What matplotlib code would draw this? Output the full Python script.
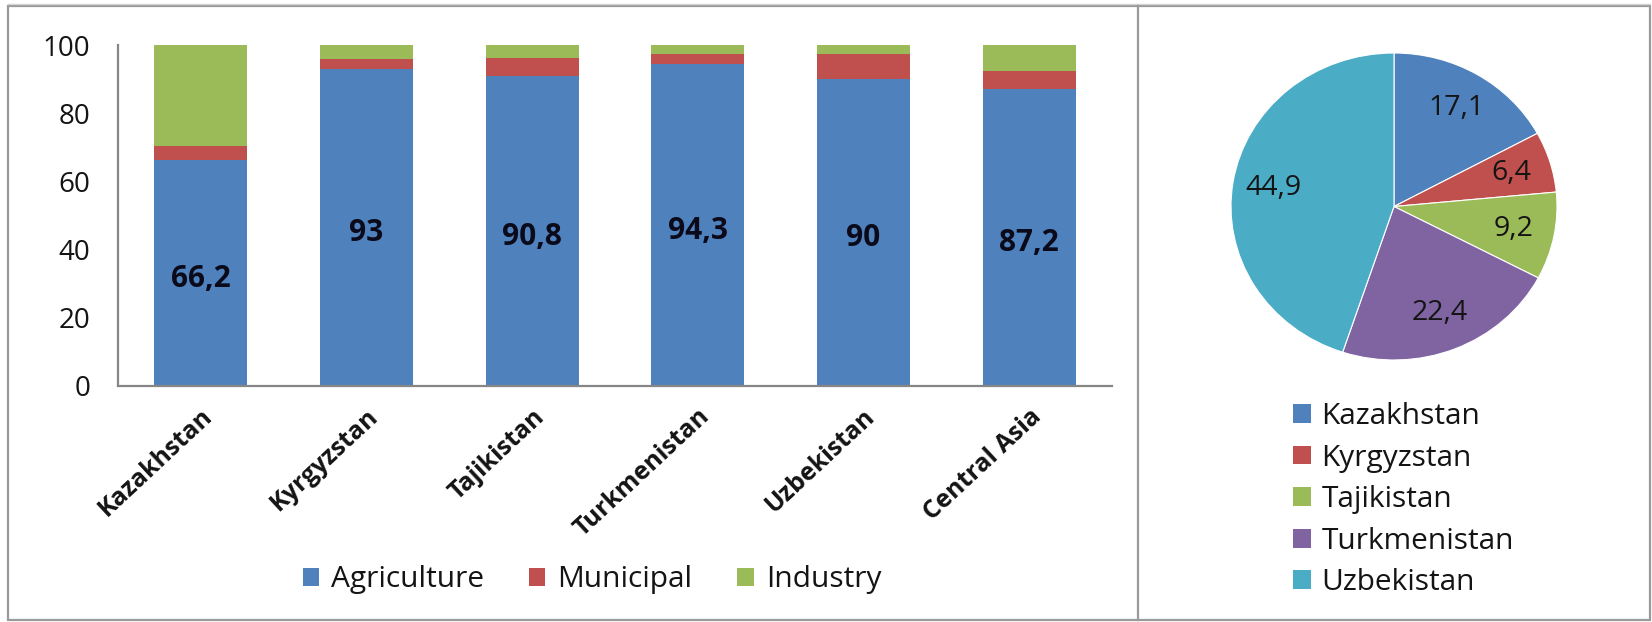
import matplotlib
matplotlib.use("Agg")
import matplotlib.pyplot as plt
from matplotlib.patches import Rectangle, Patch
from matplotlib.lines import Line2D

plt.rcParams["font.family"] = ["Open Sans", "DejaVu Sans"]

# Water withdrawal structure by sector, %
countries = ["Kazakhstan", "Kyrgyzstan", "Tajikistan", "Turkmenistan", "Uzbekistan", "Central Asia"]
agriculture = [66.2, 93.0, 90.8, 94.3, 90.0, 87.2]
municipal = [4.2, 2.8, 5.5, 3.0, 7.3, 5.3]
industry = [29.6, 4.2, 3.7, 2.7, 2.7, 7.5]
sectors = ["Agriculture", "Municipal", "Industry"]

# Share of each country in total regional withdrawal, %
pie_countries = ["Kazakhstan", "Kyrgyzstan", "Tajikistan", "Turkmenistan", "Uzbekistan"]
pie_shares = [17.1, 6.4, 9.2, 22.4, 44.9]

BLUE, RED, GREEN, PURPLE, AQUA = "#4F81BD", "#C0504D", "#9BBB59", "#8064A2", "#4BACC6"
AXIS_GREY = "#868686"
FRAME_GREY = "#9a9a9a"
TEXT = "#141414"

def fmt(v):
    s = f"{v:.1f}".rstrip("0").rstrip(".")
    return s.replace(".", ",")

W, H = 1652, 622
fig = plt.figure(figsize=(W / 100, H / 100), dpi=100)

def fx(px):
    return px / W

def fy(py):
    return 1 - py / H

# ---- stacked bar chart ----
ax = fig.add_axes([fx(118), fy(386), fx(1112) - fx(118), fy(45) - fy(386)])
x = range(len(countries))
bottom2 = [a + m for a, m in zip(agriculture, municipal)]
ax.bar(x, agriculture, width=0.56, color=BLUE, label=sectors[0])
ax.bar(x, municipal, width=0.56, bottom=agriculture, color=RED, label=sectors[1])
ax.bar(x, industry, width=0.56, bottom=bottom2, color=GREEN, label=sectors[2])
for i, v in enumerate(agriculture):
    ax.annotate(fmt(v), (i, v / 2), xytext=(0, -4), textcoords="offset points",
                ha="center", va="center", fontsize=21.5, fontweight="bold",
                color="#0a0a1a")

ax.set_xlim(-0.5, len(countries) - 0.5)
ax.set_ylim(0, 100)
ax.set_yticks([0, 20, 40, 60, 80, 100])
ax.tick_params(axis="y", length=0, pad=20, labelsize=20, labelcolor=TEXT)
ax.set_xticks(list(x))
ax.set_xticklabels(countries, rotation=43, ha="right", va="top",
                   rotation_mode="anchor", fontsize=18, fontweight="bold", color=TEXT)
ax.tick_params(axis="x", length=0, pad=13)
for side in ("top", "right"):
    ax.spines[side].set_visible(False)
for side in ("left", "bottom"):
    ax.spines[side].set_color(AXIS_GREY)
    ax.spines[side].set_linewidth(1.6)

handles = [Patch(facecolor=c, edgecolor="none") for c in (BLUE, RED, GREEN)]
fig.legend(handles, sectors, loc="center", bbox_to_anchor=(fx(592), fy(580)),
           ncol=3, frameon=False, fontsize=21.5, handlelength=0.55, handleheight=0.55,
           handletextpad=0.4, columnspacing=1.5, labelcolor=TEXT)

# ---- pie chart ----
pax = fig.add_axes([fx(1231), fy(360), fx(1557) - fx(1231), fy(53) - fy(360)])
wedges, _, autotexts = pax.pie(
    pie_shares, colors=[BLUE, RED, GREEN, PURPLE, AQUA], startangle=90,
    counterclock=False, autopct=lambda p: fmt(p), pctdistance=0.75,
    textprops=dict(fontsize=20.5, color=TEXT),
    wedgeprops=dict(linewidth=0.8, edgecolor="white"))
pax.set_aspect("auto")
pax.set_xlim(-1, 1)
pax.set_ylim(-1, 1)

pie_handles = [Patch(facecolor=w.get_facecolor(), edgecolor="none") for w in wedges]
fig.legend(pie_handles, pie_countries, loc="upper left",
           bbox_to_anchor=(fx(1293), fy(402)), frameon=False, fontsize=21.5,
           handlelength=0.6, handleheight=0.6, handletextpad=0.35,
           labelspacing=0.42, borderpad=0, borderaxespad=0, labelcolor=TEXT)

# ---- outer frame and divider ----
fig.add_artist(Line2D([fx(8), fx(1650)], [fy(4), fy(4)], transform=fig.transFigure,
                      color="#d4d4d4", linewidth=1.0))
fig.add_artist(Rectangle((fx(8), fy(620)), fx(1650) - fx(8), fy(6) - fy(620),
                         transform=fig.transFigure, fill=False,
                         edgecolor=FRAME_GREY, linewidth=1.6))
fig.add_artist(Line2D([fx(1138), fx(1138)], [fy(620), fy(6)],
                      transform=fig.transFigure, color=FRAME_GREY, linewidth=1.6))

fig.savefig("out.png", dpi=100, facecolor="white")
